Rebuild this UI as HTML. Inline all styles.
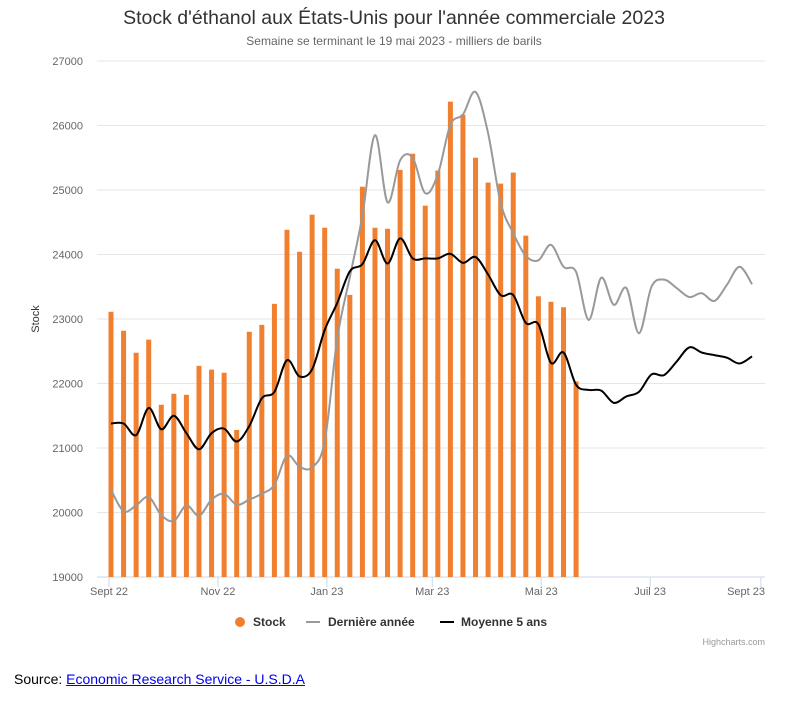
<!DOCTYPE html>
<html><head><meta charset="utf-8"><style>
body{margin:0;background:#fff;width:788px;height:707px;overflow:hidden;font-family:"Liberation Sans",sans-serif}
#src{position:absolute;left:14px;top:671px;font-size:14px;color:#000}
#src a{color:#00e;text-decoration:underline}
</style></head><body>
<svg id="chart" width="788" height="660" style="position:absolute;left:0;top:0" font-family="Liberation Sans, sans-serif">
<text x="394" y="24" text-anchor="middle" font-size="19.5" fill="#333">Stock d'éthanol aux États-Unis pour l'année commerciale 2023</text>
<text x="394" y="45" text-anchor="middle" font-size="12" fill="#666">Semaine se terminant le 19 mai 2023 - milliers de barils</text>
<text transform="translate(39,319) rotate(-90)" text-anchor="middle" font-size="11" fill="#333">Stock</text>
<g id="grid"></g><g id="bars"></g><g id="lines"></g><g id="xaxis"></g>
<g font-size="12" font-weight="bold" fill="#333">
<g><circle cx="240" cy="622" r="5" fill="#f08030"/><text x="253" y="626">Stock</text></g>
<g><line x1="306" y1="622" x2="320" y2="622" stroke="#999" stroke-width="2"/><text x="328" y="626">Dernière année</text></g>
<g><line x1="440" y1="622" x2="454" y2="622" stroke="#000" stroke-width="2"/><text x="461" y="626">Moyenne 5 ans</text></g>
</g>
<text x="765" y="645" text-anchor="end" font-size="9" fill="#999">Highcharts.com</text>
</svg>
<div id="src">Source: <a>Economic Research Service - U.S.D.A</a></div>
<script>
const yTicks=[19000,20000,21000,22000,23000,24000,25000,26000,27000];
const xTickLabels=["Sept 22","Nov 22","Jan 23","Mar 23","Mai 23","Juil 23","Sept 23"];
const xTickDays=[0,61,122,181,242,303,365];
const stock=[23112,22818,22477,22680,21670,21841,21825,22274,22215,22167,21280,22802,22909,23235,24383,24042,24618,24415,23780,23374,25051,24415,24399,25312,25563,24757,25302,26370,26167,25500,25115,25099,25270,24292,23352,23267,23182,22033];
const lastYear=[20350,20020,20110,20240,19960,19870,20110,19950,20200,20290,20120,20200,20290,20430,20880,20710,20700,21100,22700,23650,24600,25850,24810,25460,25500,24950,25240,26010,26170,26520,25880,24800,24330,23980,23910,24150,23810,23730,22985,23640,23220,23480,22780,23500,23610,23480,23340,23400,23280,23530,23810,23540];
const avg5=[21380,21380,21200,21620,21290,21500,21230,20980,21230,21300,21100,21340,21770,21870,22360,22110,22220,22830,23250,23740,23850,24220,23860,24250,23940,23940,23940,24010,23870,23960,23690,23370,23370,22940,22920,22320,22480,21980,21900,21890,21700,21800,21870,22140,22130,22340,22560,22480,22440,22400,22310,22420];
const NS="http://www.w3.org/2000/svg";
function x(day){return 109+day*1.786;}
function xw(i){return 111+12.57*i;}
function y(v){return 61+(27000-v)*0.0645;}
function mk(t,a,p){const e=document.createElementNS(NS,t);for(const k in a)e.setAttribute(k,a[k]);p.appendChild(e);return e;}
const grid=document.getElementById('grid');
yTicks.forEach(v=>{
 const l=mk('line',{x1:97,x2:765,y1:y(v),y2:y(v),stroke:v===19000?'#ccd6eb':'#e6e6e6'},grid);
 
 
 const t=mk('text',{x:83,y:y(v)+4,'text-anchor':'end','font-size':11,fill:'#666'},grid);
 t.textContent=v;
 
 
});
const xa=document.getElementById('xaxis');
xTickDays.forEach((d,i)=>{
 const l=mk('line',{x1:x(d),x2:x(d),y1:577,y2:587,stroke:'#ccd6eb'},xa);
 
 
 const last=i===xTickDays.length-1;
 const t=mk('text',{x:last?765:x(d),y:595,'text-anchor':last?'end':'middle','font-size':11,fill:'#666'},xa);
 t.textContent=xTickLabels[i];
 
 
});
const bars=document.getElementById('bars');
stock.forEach((v,i)=>{
 const r=mk('rect',{x:xw(i)-2.5,y:y(v),width:5,height:577-y(v),fill:'#f08030'},bars);
 
 
});
function spline(vals){
 const p=vals.map((v,i)=>[xw(i),y(v)]);
 let d='M'+p[0][0]+','+p[0][1];
 for(let i=0;i<p.length-1;i++){
  const p0=p[Math.max(0,i-1)],p1=p[i],p2=p[i+1],p3=p[Math.min(p.length-1,i+2)];
  const c1=[p1[0]+(p2[0]-p0[0])/6,p1[1]+(p2[1]-p0[1])/6];
  const c2=[p2[0]-(p3[0]-p1[0])/6,p2[1]-(p3[1]-p1[1])/6];
  d+=' C'+c1+' '+c2+' '+p2;
 }
 return d;
}
const lines=document.getElementById('lines');
const g=mk('path',{d:spline(lastYear),fill:'none',stroke:'#999','stroke-width':2},lines);


const b=mk('path',{d:spline(avg5),fill:'none',stroke:'#000','stroke-width':2},lines);


</script>
</body></html>
